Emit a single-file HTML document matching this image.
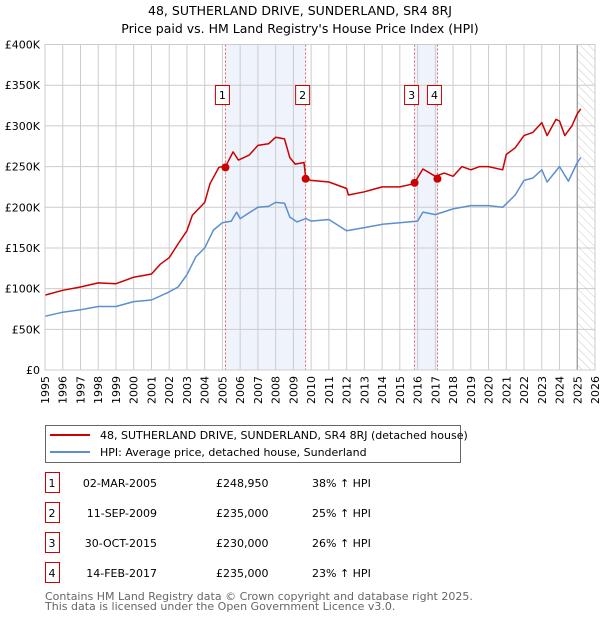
<!DOCTYPE html>
<html><head><meta charset="utf-8"><style>
body{margin:0;background:#fff;font-family:"Liberation Sans","DejaVu Sans",sans-serif;}
svg text{font-family:"DejaVu Sans","Liberation Sans",sans-serif;}
</style></head><body>
<svg id="c" width="600" height="620" xmlns="http://www.w3.org/2000/svg">
<defs><pattern id="hatch" width="6" height="6" patternUnits="userSpaceOnUse" patternTransform="rotate(-45)"><line x1="0" y1="0" x2="0" y2="6" stroke="#ccc" stroke-width="1"/></pattern></defs>
<text x="300" y="15" text-anchor="middle" font-size="12.5">48, SUTHERLAND DRIVE, SUNDERLAND, SR4 8RJ</text>
<text x="300" y="33" text-anchor="middle" font-size="12.5">Price paid vs. HM Land Registry's House Price Index (HPI)</text>
<g id="plot"></g>
<g>
<rect x="45.5" y="425.5" width="415" height="37" fill="#fff" stroke="#666"/>
<line x1="50" y1="435" x2="90" y2="435" stroke="#cc0000" stroke-width="2"/>
<text x="100" y="439" font-size="11">48, SUTHERLAND DRIVE, SUNDERLAND, SR4 8RJ (detached house)</text>
<line x1="50" y1="452" x2="90" y2="452" stroke="#5b8fd0" stroke-width="2"/>
<text x="100" y="456" font-size="11">HPI: Average price, detached house, Sunderland</text>
</g>
<g id="table" font-size="11"></g>
<text x="45" y="600" font-size="11" fill="#666">Contains HM Land Registry data © Crown copyright and database right 2025.</text>
<text x="45" y="610" font-size="11" fill="#666">This data is licensed under the Open Government Licence v3.0.</text>
</svg>
<script>
const yTicks=[0,50000,100000,150000,200000,250000,300000,350000,400000];
const yTickLabels=["£0","£50K","£100K","£150K","£200K","£250K","£300K","£350K","£400K"];
const years=[1995,1996,1997,1998,1999,2000,2001,2002,2003,2004,2005,2006,2007,2008,2009,2010,2011,2012,2013,2014,2015,2016,2017,2018,2019,2020,2021,2022,2023,2024,2025,2026];
const hpiT=[1995,1996,1997,1998,1999,2000,2001,2002,2002.5,2003,2003.5,2004,2004.5,2005,2005.5,2005.8,2006,2006.5,2007,2007.6,2008,2008.5,2008.8,2009.2,2009.7,2010,2011,2012,2013,2014,2015,2016,2016.3,2017,2018,2019,2020,2020.8,2021.5,2022,2022.5,2023,2023.3,2024,2024.5,2025,2025.2];
const hpiV=[66,71,74,78,78,84,86,96,102,117,139,150,172,181,183,194,186,193,200,201,206,205,188,182,186,183,185,171,175,179,181,183,194,191,198,202,202,200,215,233,236,246,231,250,232,255,261];
const redT=[1995,1996,1997,1998,1999,2000,2001,2001.5,2002,2002.5,2003,2003.3,2004,2004.3,2004.8,2005.2,2005.6,2005.9,2006.5,2007,2007.6,2008,2008.5,2008.8,2009.1,2009.6,2009.7,2010,2011,2012,2012.1,2013,2014,2015,2015.8,2016.3,2017,2017.5,2018,2018.5,2019,2019.5,2020,2020.8,2021,2021.5,2022,2022.5,2023,2023.3,2023.8,2024,2024.3,2024.7,2025,2025.2];
const redV=[92,98,102,107,106,114,118,130,138,155,171,190,206,229,249,251,268,258,264,276,278,286,284,261,253,255,235,233,231,223,215,219,225,225,229,247,238,242,238,250,246,250,250,246,265,273,288,292,304,288,308,306,288,300,315,321];
const saleT=[2005.17,2009.69,2015.83,2017.12];
const saleV=[248950,235000,230000,235000];
const saleLabels=["1","2","3","4"];
const saleDates=["02-MAR-2005","11-SEP-2009","30-OCT-2015","14-FEB-2017"];
const salePrices=["£248,950","£235,000","£230,000","£235,000"];
const saleHpi=["38% ↑ HPI","25% ↑ HPI","26% ↑ HPI","23% ↑ HPI"];

const X0=45,X1=595,Y0=370,Y1=44.5;
const xs=t=>X0+(t-1995)/(2026-1995)*(X1-X0);
const ys=v=>Y0-v/400000*(Y0-Y1);
const NS="http://www.w3.org/2000/svg";
const plot=document.getElementById('plot');
function mk(tag,attrs,parent){const e=document.createElementNS(NS,tag);for(const k in attrs)e.setAttribute(k,attrs[k]);(parent||plot).appendChild(e);return e;}

for(let i=0;i<4;i+=2){
  const r=mk('rect',{x:xs(saleT[i]),y:Y1,width:xs(saleT[i+1])-xs(saleT[i]),height:Y0-Y1,fill:'#eef3fc'});
  
  
}
const hr=mk('rect',{x:xs(2025),y:Y1,width:X1-xs(2025),height:Y0-Y1,fill:'url(#hatch)'});


years.forEach(y=>{
  const l=mk('line',{x1:xs(y),x2:xs(y),y1:Y1,y2:Y0,stroke:'#ccc','stroke-width':1});
  
  
  const t=mk('text',{x:0,y:0,'font-size':11,'text-anchor':'end',transform:`translate(${xs(y)+4},${Y0+6}) rotate(-90)`});
  t.textContent=y;
  
  
});
yTicks.forEach((v,i)=>{
  const l=mk('line',{x1:X0,x2:X1,y1:ys(v),y2:ys(v),stroke:'#ccc','stroke-width':1});
  
  
  const t=mk('text',{x:40,y:ys(v)+4,'font-size':11,'text-anchor':'end'});
  t.textContent=yTickLabels[i];
  
  
});
const nl=mk('line',{x1:xs(2025),x2:xs(2025),y1:Y1,y2:Y0,stroke:'#999','stroke-width':1.2});


saleT.forEach((t,i)=>{
  const l=mk('line',{x1:xs(t),x2:xs(t),y1:Y1,y2:Y0,stroke:'#e06060','stroke-width':1,'stroke-dasharray':'2,2'});
  
  
  const cx=xs(t)-3;
  const r=mk('rect',{x:cx-7,y:85.5,width:14,height:19,fill:'#fff',stroke:'#cc0000'});
  
  
  const tx=mk('text',{x:cx,y:99,'font-size':11,'text-anchor':'middle'});
  tx.textContent=saleLabels[i];
  
  
});
function line(T,V,col,name){
  const d=T.map((t,i)=>(i?'L':'M')+xs(t).toFixed(1)+','+ys(V[i]*1000).toFixed(1)).join('');
  const p=mk('path',{d,fill:'none',stroke:col,'stroke-width':1.5,'stroke-linejoin':'round'});
  
  
}
line(hpiT,hpiV,'#5b8fd0','hpi-line');
line(redT,redV,'#cc0000','property-price-line');
saleT.forEach((t,i)=>{
  const c=mk('circle',{cx:xs(t),cy:ys(saleV[i]),r:4,fill:'#cc0000'});
  
  
});
const fr=mk('rect',{x:X0,y:Y1,width:X1-X0,height:Y0-Y1,fill:'none',stroke:'#ccc'});


const tb=document.getElementById('table');
saleT.forEach((t,i)=>{
  const y=483+i*30;
  const r=mk('rect',{x:45.5,y:y-10.5,width:14,height:20,fill:'#fff',stroke:'#cc0000'},tb);
  
  
  const cells=[[52,saleLabels[i],'middle'],[157,saleDates[i],'end'],[216,salePrices[i],'start'],[312,saleHpi[i],'start']];
  cells.forEach(c=>{
    const e=mk('text',{x:c[0],y:y+4,'text-anchor':c[2]},tb);
    e.textContent=c[1];
    
    
  });
});
</script>
</body></html>
